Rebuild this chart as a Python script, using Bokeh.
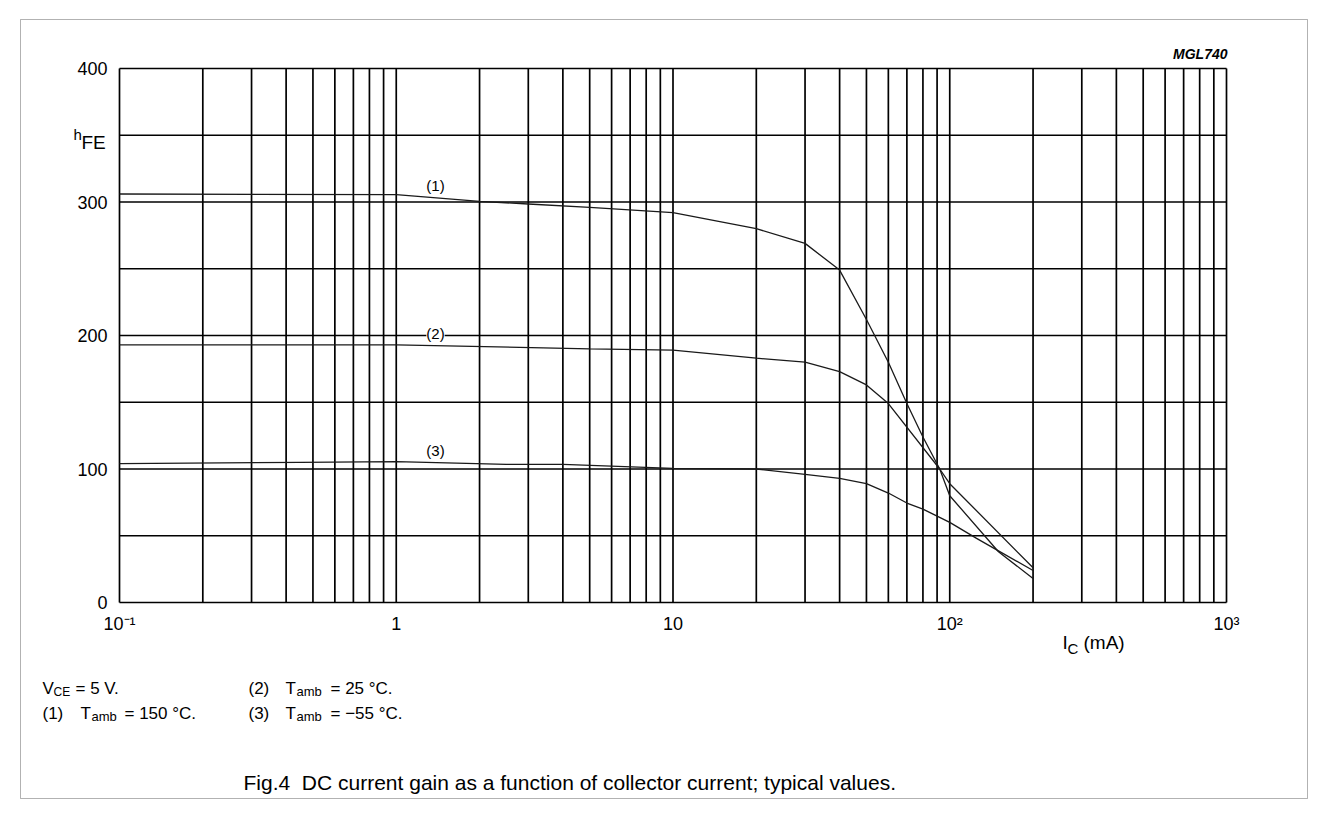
from bokeh.plotting import figure
from bokeh.models import FixedTicker, Label, BoxAnnotation, Range1d
from bokeh.embed import file_html
from bokeh.resources import INLINE

# ---------------- data ----------------
x_ticks = [0.1, 1, 10, 100, 1000]
x_tick_labels = ["10\u207b\u00b9", "1", "10", "10\u00b2", "10\u00b3"]
y_ticks = [0, 100, 200, 300, 400]
y_tick_labels = ["0", "100", "200", "300", "400"]
y_grid_values = [0, 50, 100, 150, 200, 250, 300, 350, 400]
x_grid_values = [0.1, 0.2, 0.3, 0.4, 0.5, 0.6, 0.7, 0.8, 0.9,
                 1, 2, 3, 4, 5, 6, 7, 8, 9,
                 10, 20, 30, 40, 50, 60, 70, 80, 90,
                 100, 200, 300, 400, 500, 600, 700, 800, 900, 1000]

# collector current I_C (mA) and DC current gain h_FE
c1_ic = [0.1, 1, 2, 3, 5, 10, 20, 30, 40, 50, 60, 70, 80, 92, 100, 150, 200]
c1_hfe = [306, 305.5, 300.5, 298.5, 296, 292, 280, 269, 249, 212, 180, 149, 124, 100, 80, 38, 18]

c2_ic = [0.1, 1, 5, 10, 20, 30, 40, 50, 60, 92, 100, 200]
c2_hfe = [193, 193, 190, 189, 183, 180, 173, 163, 149, 100, 89, 26]

c3_ic = [0.1, 0.45, 1, 2.5, 4, 10, 20, 30, 40, 50, 60, 70, 80, 100, 125, 155, 200]
c3_hfe = [104, 105, 105.5, 103.5, 103.5, 100.5, 100, 96, 93, 89, 82, 74.5, 70, 60, 48, 37, 24]

curve_names = ["(1)", "(2)", "(3)"]

# ---------------- layout (pixels) ----------------
W, H = 1311, 800
PL, PT, PW, PH = 119, 68, 1107, 534          # plot area in canvas pixels
DEC = PW / 4.0                               # pixels per decade
XMIN, XMAX, YMIN, YMAX = 0.1, 1000, 0, 400

def X(px):
    return 10 ** ((px - PL) / DEC - 1)

def Y(py):
    return (PT + PH - py) * (YMAX - YMIN) / PH

p = figure(x_axis_type="log", width=W, height=H,
           x_range=Range1d(X(0), X(W)), y_range=Range1d(Y(H), Y(0)),
           min_border=0, min_border_left=0, min_border_right=0,
           min_border_top=0, min_border_bottom=0,
           output_backend="svg", toolbar_location=None)
p.background_fill_color = "white"
p.border_fill_color = "white"
p.outline_line_color = None
p.grid.visible = False

FONT = "Liberation Sans"

# axes pinned to the plot-area edges
p.xaxis.fixed_location = YMIN
p.yaxis.fixed_location = XMIN
p.xaxis.ticker = FixedTicker(ticks=x_ticks)
p.xaxis.major_label_overrides = {t: s for t, s in zip(x_ticks, x_tick_labels)}
p.yaxis.ticker = FixedTicker(ticks=y_ticks)
p.yaxis.major_label_overrides = {t: s for t, s in zip(y_ticks, y_tick_labels)}
for ax in (p.xaxis, p.yaxis):
    ax.axis_line_color = None
    ax.major_tick_line_color = None
    ax.minor_tick_line_color = None
    ax.major_label_text_font = FONT
    ax.major_label_text_font_size = "18px"
    ax.major_label_text_color = "black"
p.xaxis.major_label_standoff = 5
p.yaxis.major_label_standoff = 6

# grid (including the plot-area frame)
GW = 1.7
p.segment(x0=x_grid_values, y0=[YMIN] * len(x_grid_values),
          x1=x_grid_values, y1=[YMAX] * len(x_grid_values),
          line_color="black", line_width=GW)
p.segment(x0=[XMIN] * len(y_grid_values), y0=y_grid_values,
          x1=[XMAX] * len(y_grid_values), y1=y_grid_values,
          line_color="black", line_width=GW)

for xs, ys in [(c1_ic, c1_hfe), (c2_ic, c2_hfe), (c3_ic, c3_hfe)]:
    p.line(xs, ys, line_color="#1a1a1a", line_width=1.3)

def txt(px, py, s, size, align="left", baseline="alphabetic", style="normal", bg=None):
    lab = Label(x=X(px), y=Y(py), text=s, text_font=FONT, text_font_size=size,
                text_align=align, text_baseline=baseline, text_font_style=style,
                text_color="black")
    if bg:
        lab.background_fill_color = bg
        lab.background_fill_alpha = 1.0
    p.add_layout(lab)

# curve labels
txt(435, 185, curve_names[0], "15px", align="center", baseline="middle", bg="white")
txt(435, 333, curve_names[1], "15px", align="center", baseline="middle", bg="white")
txt(435, 450, curve_names[2], "15px", align="center", baseline="middle", bg="white")

# y axis name h_FE
txt(73, 134, "h", "15px")
txt(81, 142, "FE", "19px")

# x axis name I_C (mA)
txt(1062, 642, "I", "19px")
txt(1067, 648, "C", "15px")
txt(1083, 642, "(mA)", "19px")

# code in top right
txt(1227, 53, "MGL740", "14px", align="right", baseline="middle", style="bold italic")

# conditions
txt(42, 688, "V", "17px")
txt(53, 691, "CE", "12px")
txt(75, 688, "= 5 V.", "17px")
txt(248, 688, "(2)", "17px")
txt(285, 688, "T", "17px")
txt(296, 691, "amb", "13px")
txt(330, 688, "= 25 \u00b0C.", "17px")
txt(42, 713, "(1)", "17px")
txt(80, 713, "T", "17px")
txt(91, 716, "amb", "13px")
txt(124, 713, "= 150 \u00b0C.", "17px")
txt(248, 713, "(3)", "17px")
txt(285, 713, "T", "17px")
txt(296, 716, "amb", "13px")
txt(330, 713, "= \u221255 \u00b0C.", "17px")

# caption
txt(243, 782, "Fig.4\u00a0 DC current gain as a function of collector current; typical values.", "21px")

# outer frame
p.add_layout(BoxAnnotation(left=20, right=1307, top=19, bottom=798,
                           left_units="canvas", right_units="canvas",
                           top_units="canvas", bottom_units="canvas",
                           fill_alpha=0, line_color="black", line_width=1))

open("out.html", "w").write(file_html(p, INLINE))
